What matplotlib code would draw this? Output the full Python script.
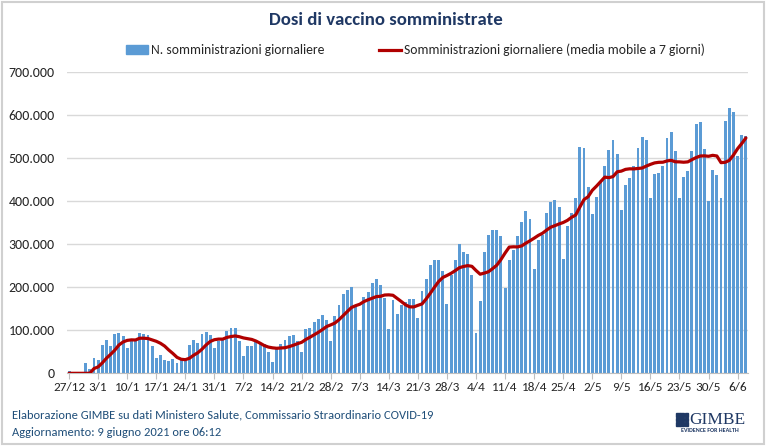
import numpy as np
import matplotlib.pyplot as plt
from matplotlib.patches import Rectangle, Patch
from matplotlib.lines import Line2D

plt.rcParams['font.family'] = ['Carlito', 'Lato', 'DejaVu Sans']

# ── data: daily doses from 27/12/2020 to 8/6/2021 ────────────────────────────
doses_k = [
    5, 1, 1, 2, 23, 9, 36, 32, 66, 77, 64, 91, 93, 86, 58, 74, 75, 93, 91, 88,
    63, 36, 42, 30, 29, 34, 25, 32, 29, 66, 78, 70, 91, 95, 88, 58, 76, 77, 98, 105,
    105, 75, 39, 64, 64, 72, 70, 67, 50, 27, 57, 68, 77, 87, 90, 75, 49, 103, 104, 118,
    126, 135, 124, 76, 133, 159, 183, 193, 201, 153, 100, 176, 188, 210, 218, 206, 174, 103, 169, 138,
    159, 165, 172, 172, 129, 192, 220, 251, 263, 264, 238, 161, 228, 263, 299, 282, 278, 227, 93, 168,
    281, 321, 333, 333, 319, 199, 264, 286, 319, 350, 377, 358, 241, 309, 321, 371, 397, 402, 385, 265,
    343, 371, 408, 526, 524, 432, 369, 410, 445, 481, 518, 541, 510, 380, 438, 454, 480, 524, 549, 541,
    408, 462, 464, 481, 545, 559, 517, 407, 456, 470, 517, 579, 584, 520, 400, 471, 460, 408, 585, 616,
    606, 504, 554, 551,
]

# 7-day moving average as drawn on the chart (thousands)
avg_k = [
    0, 0, 0, 0, 0, 0, 11.0, 14.9, 24.1, 35.0, 43.9, 53.6, 65.6, 72.7, 76.4, 77.6, 77.3, 81.4, 81.4, 80.7,
    77.4, 74.3, 69.7, 63.3, 54.1, 46.0, 37.0, 32.6, 31.6, 35.0, 41.9, 47.7, 55.9, 65.9, 73.9, 78.0, 79.4, 79.3, 83.3, 85.3,
    86.7, 84.9, 82.1, 80.4, 78.6, 74.9, 69.9, 64.4, 60.9, 59.1, 58.1, 58.7, 59.4, 61.9, 65.1, 68.7, 71.9, 78.4, 83.6, 89.4,
    95.0, 101.4, 108.4, 112.3, 116.6, 124.4, 133.7, 143.3, 152.7, 156.9, 160.3, 166.4, 170.6, 174.4, 178.0, 178.7, 181.7, 182.1, 181.1, 174.0,
    166.7, 159.1, 154.3, 154.0, 157.7, 161.0, 172.7, 185.9, 199.9, 213.0, 222.4, 227.0, 232.1, 238.3, 245.1, 247.9, 249.9, 248.3, 238.6, 230.0,
    232.6, 235.7, 243.0, 250.9, 264.0, 279.1, 292.9, 293.6, 293.3, 295.7, 302.0, 307.6, 313.6, 320.0, 325.0, 332.4, 339.1, 342.7, 346.6, 350.0,
    354.9, 362.0, 367.3, 385.7, 403.1, 409.9, 424.7, 434.3, 444.9, 455.3, 454.1, 456.6, 467.7, 469.3, 473.3, 474.6, 474.4, 475.3, 476.4, 480.9,
    484.9, 488.3, 489.7, 489.9, 492.9, 494.3, 490.9, 490.7, 489.9, 490.7, 495.9, 500.7, 504.3, 504.7, 503.7, 505.9, 504.4, 488.9, 489.7, 494.3,
    506.6, 521.4, 533.3, 546.3,
]

tick_labels = ['27/12', '3/1', '10/1', '17/1', '24/1', '31/1', '7/2', '14/2', '21/2',
               '28/2', '7/3', '14/3', '21/3', '28/3', '4/4', '11/4', '18/4', '25/4',
               '2/5', '9/5', '16/5', '23/5', '30/5', '6/6']
y_ticks = [0, 100000, 200000, 300000, 400000, 500000, 600000, 700000]

BAR_COLOR = "#5B9BD5"
LINE_COLOR = "#B00000"
TITLE_COLOR = "#1F3864"
FOOT_COLOR = "#1F4E79"

doses = np.array(doses_k) * 1000
avg = np.array(avg_k) * 1000
x = np.arange(len(doses))

W, H = 767, 448
fig = plt.figure(figsize=(W / 100, H / 100), dpi=100)
ax = fig.add_axes([67 / W, 1 - 373.3 / H, (748 - 67) / W, (373.3 - 71.7) / H])

ax.bar(x, doses, width=0.7, color=BAR_COLOR, zorder=2)
ax.plot(x, avg, color=LINE_COLOR, lw=2.3, zorder=3, solid_capstyle='round')

ax.set_xlim(-0.5, len(doses) - 0.5)
ax.set_ylim(0, 700000)
ax.set_yticks(y_ticks)
ax.set_yticklabels([f"{v:,}".replace(",", ".") for v in y_ticks])
ax.set_xticks(x[::7])
ax.set_xticklabels(tick_labels)
ax.grid(axis='y', color='#D9D9D9', lw=1, zorder=0)
ax.set_axisbelow(True)
for s in ['left', 'right', 'top']:
    ax.spines[s].set_visible(False)
ax.spines['bottom'].set_color('#BFBFBF')
ax.tick_params(axis='y', length=0, labelsize=10, labelcolor='#262626', pad=9)
ax.tick_params(axis='x', length=4, color='#BFBFBF', labelsize=9.5, labelcolor='#262626', pad=2)

# title and legend
fig.text(386 / W, 1 - 20 / H, "Dosi di vaccino somministrate", ha='center', va='center',
         fontsize=13.5, fontweight='bold', color=TITLE_COLOR)
handles = [Patch(color=BAR_COLOR, label="N. somministrazioni giornaliere"),
           Line2D([], [], color=LINE_COLOR, lw=2.3,
                  label="Somministrazioni giornaliere (media mobile a 7 giorni)")]
fig.legend(handles=handles, loc='center', bbox_to_anchor=(415.5 / W, 1 - 50 / H), ncol=2,
           frameon=False, fontsize=9.8, handlelength=1.6, handletextpad=0.25,
           columnspacing=4.0, labelcolor='#262626')

# footer
fig.text(12 / W, 1 - 415 / H, "Elaborazione GIMBE su dati Ministero Salute, Commissario Straordinario COVID-19",
         fontsize=9, color=FOOT_COLOR, va='center')
fig.text(12 / W, 1 - 432 / H, "Aggiornamento: 9 giugno 2021 ore 06:12",
         fontsize=9, color=FOOT_COLOR, va='center')

# GIMBE logo
for i in range(3):
    for j in range(3):
        fig.patches.append(Rectangle(((676 + i * 4.3) / W, 1 - (413 + j * 4.5) / H - 3.5 / H),
                                     3.5 / W, 3.5 / H, transform=fig.transFigure,
                                     color=TITLE_COLOR))
fig.text(689 / W, 1 - 420 / H, "GIMBE", family='Liberation Serif', fontsize=12.5,
         color=TITLE_COLOR, va='center', ha='left')
fig.text(710 / W, 1 - 430.5 / H, "EVIDENCE FOR HEALTH", fontsize=4.3, color=TITLE_COLOR,
         va='center', ha='center', fontweight='bold')

# outer frame
fig.patches.append(Rectangle((2 / W, 4 / H), 762 / W, 442 / H, transform=fig.transFigure,
                             fill=False, ec='#D0D0D0', lw=1.5))

fig.savefig("out.png", dpi=100, facecolor='white')
